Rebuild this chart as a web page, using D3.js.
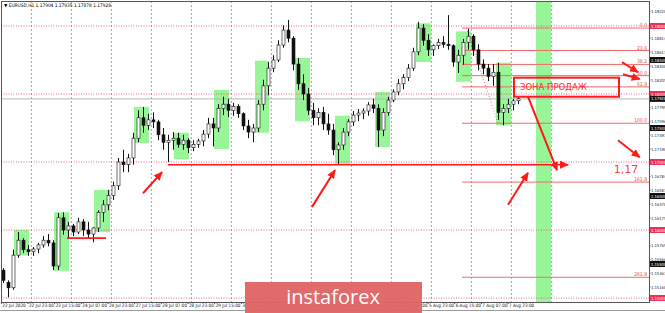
<!DOCTYPE html>
<html>
<head>
<meta charset="utf-8">
<script src="https://cdn.jsdelivr.net/npm/d3@7/dist/d3.min.js"></script>
<style>
  body { margin: 0; background: #fff; }
  svg { display: block; font-family: "DejaVu Sans", sans-serif; }
  .small { font-family: "Liberation Sans Narrow", "DejaVu Sans Condensed", sans-serif; }
</style>
</head>
<body>
<div id="chart"></div>
<script>
// EURUSD H1, each candle below = 3 hourly bars
const candles = [
  [1.1541,1.1544,1.1522,1.1526],[1.1523,1.1526,1.1501,1.1515],[1.1515,1.1571,1.1512,1.1563],[1.1563,1.1597,1.1559,1.1585],
  [1.1585,1.1588,1.1566,1.1571],[1.1571,1.1578,1.1562,1.1568],[1.1568,1.1575,1.1562,1.1572],[1.1572,1.1581,1.1566,1.1578],
  [1.1578,1.1591,1.1574,1.1585],[1.1585,1.1594,1.1576,1.1581],[1.1581,1.1585,1.1541,1.1547],[1.1547,1.1625,1.1541,1.1618],
  [1.1618,1.1626,1.1593,1.1600],[1.1600,1.1612,1.1588,1.1606],[1.1606,1.1609,1.1591,1.1597],[1.1597,1.1618,1.1594,1.1612],
  [1.1612,1.1616,1.1591,1.1600],[1.1600,1.1612,1.1588,1.1594],[1.1594,1.1604,1.1582,1.1603],[1.1603,1.1629,1.1597,1.1626],
  [1.1626,1.1644,1.1612,1.1637],[1.1637,1.1659,1.1629,1.1651],[1.1651,1.1671,1.1644,1.1665],[1.1665,1.1706,1.1659,1.1700],
  [1.1700,1.1718,1.1685,1.1696],[1.1696,1.1712,1.1685,1.1706],[1.1706,1.1743,1.1696,1.1735],[1.1735,1.1776,1.1729,1.1765],
  [1.1765,1.1781,1.1743,1.1754],[1.1754,1.1771,1.1747,1.1762],[1.1762,1.1773,1.1750,1.1759],[1.1759,1.1762,1.1732,1.1740],
  [1.1740,1.1750,1.1718,1.1729],[1.1729,1.1740,1.1700,1.1732],[1.1732,1.1744,1.1718,1.1735],[1.1735,1.1743,1.1721,1.1726],
  [1.1726,1.1740,1.1718,1.1732],[1.1732,1.1735,1.1713,1.1721],[1.1721,1.1732,1.1716,1.1726],[1.1726,1.1734,1.1721,1.1731],
  [1.1731,1.1747,1.1723,1.1741],[1.1741,1.1765,1.1735,1.1756],[1.1756,1.1765,1.1723,1.1750],[1.1750,1.1785,1.1744,1.1779],
  [1.1779,1.1796,1.1769,1.1785],[1.1785,1.1793,1.1766,1.1776],[1.1776,1.1787,1.1768,1.1782],[1.1782,1.1785,1.1765,1.1771],
  [1.1771,1.1773,1.1747,1.1753],[1.1753,1.1762,1.1735,1.1744],[1.1744,1.1756,1.1729,1.1750],[1.1750,1.1791,1.1744,1.1785],
  [1.1785,1.1821,1.1776,1.1812],[1.1812,1.1847,1.1798,1.1838],[1.1838,1.1857,1.1832,1.1850],[1.1850,1.1879,1.1847,1.1872],
  [1.1872,1.1901,1.1868,1.1894],[1.1894,1.1909,1.1876,1.1882],[1.1882,1.1885,1.1835,1.1844],[1.1844,1.1853,1.1806,1.1815],
  [1.1815,1.1829,1.1791,1.1800],[1.1800,1.1809,1.1769,1.1776],[1.1776,1.1787,1.1754,1.1765],[1.1765,1.1779,1.1754,1.1773],
  [1.1773,1.1781,1.1747,1.1756],[1.1756,1.1771,1.1740,1.1747],[1.1747,1.1756,1.1710,1.1718],[1.1718,1.1729,1.1697,1.1725],
  [1.1725,1.1750,1.1718,1.1744],[1.1744,1.1763,1.1738,1.1759],[1.1759,1.1775,1.1753,1.1769],[1.1769,1.1778,1.1760,1.1772],
  [1.1772,1.1779,1.1763,1.1775],[1.1775,1.1788,1.1768,1.1784],[1.1784,1.1793,1.1772,1.1779],[1.1779,1.1785,1.1722,1.1747],
  [1.1747,1.1779,1.1738,1.1773],[1.1773,1.1796,1.1768,1.1791],[1.1791,1.1807,1.1788,1.1803],[1.1803,1.1822,1.1798,1.1815],
  [1.1815,1.1829,1.1807,1.1824],[1.1824,1.1844,1.1819,1.1838],[1.1838,1.1868,1.1834,1.1862],[1.1862,1.1906,1.1857,1.1897],
  [1.1897,1.1903,1.1871,1.1879],[1.1879,1.1888,1.1856,1.1865],[1.1865,1.1873,1.1856,1.1871],[1.1871,1.1881,1.1866,1.1876],
  [1.1876,1.1885,1.1868,1.1873],[1.1873,1.1916,1.1865,1.1871],[1.1871,1.1873,1.1840,1.1847],[1.1847,1.1865,1.1831,1.1857],
  [1.1857,1.1881,1.1843,1.1876],[1.1876,1.1896,1.1865,1.1885],[1.1885,1.1888,1.1856,1.1865],[1.1865,1.1873,1.1835,1.1844],
  [1.1844,1.1851,1.1829,1.1838],[1.1838,1.1844,1.1819,1.1826],[1.1826,1.1844,1.1812,1.1832],[1.1832,1.1846,1.1762,1.1773],
  [1.1773,1.1785,1.1754,1.1779],[1.1779,1.1793,1.1772,1.1785],[1.1785,1.1793,1.1776,1.1790],[1.1790,1.1797,1.1785,1.1793]
];
const hoursPerCandle = 3;
const bidPrice = 1.17928;

// time labels, one every 16 hourly bars
const timeLabels = ["22 Jul 2020","22 Jul 23:00","23 Jul 15:00","24 Jul 07:00","24 Jul 23:00","27 Jul 15:00",
  "28 Jul 07:00","28 Jul 23:00","29 Jul 15:00","30 Jul 07:00","30 Jul 23:00","31 Jul 15:00","3 Aug 07:00",
  "3 Aug 23:00","4 Aug 15:00","5 Aug 07:00","5 Aug 23:00","6 Aug 15:00","7 Aug 07:00","7 Aug 23:00"];

// right price scale
const priceTicks = [1.19220,1.18814,1.18611,1.18408,1.18205,1.17799,1.17596,1.17393,1.17190,
  1.16784,1.16581,1.16378,1.16175,1.15769,1.15566,1.15363,1.15160];
const roundLevels = [1.19, 1.18, 1.17, 1.16, 1.15];
const halfLevels = [1.185, 1.175, 1.165, 1.155];

// green zones: [startBar, endBar, top, bottom]
const zones = [
  [7.6,16.6,1.1600,1.1563],[31.6,40.6,1.1626,1.1540],[55.6,65.2,1.1659,1.1597],[79.6,88.6,1.1781,1.1728],
  [103.6,112.6,1.1743,1.1704],[127.6,136.6,1.1806,1.1719],[152.2,160.6,1.1849,1.1743],[176.2,185.2,1.1853,1.1760],
  [200.2,209.2,1.1768,1.1696],[224.2,233.2,1.1803,1.1722],[248.8,257.8,1.1904,1.1847],[272.8,281.8,1.1892,1.1818],
  [296.8,305.8,1.1846,1.1754]
];
const futureZone = [320.8, 329.8];

// fibonacci grid
const fibHigh = 1.1897, fibLow = 1.1757, fibStart = 276.4;
const fibLevels = [0, 23.6, 38.2, 50, 61.8, 100, 161.8, 261.8];
const fibTrend = [[279, 1.1897], [298, 1.1757]];

// red levels and arrows: [bar, price]
const supportLines = [
  {from: 100, to: 340, price: 1.1696, arrow: true},
  {from: 39.4, to: 62.8, price: 1.1588, arrow: false}
];
const arrows = [
  [[85, 1.1654], [96.4, 1.1685]],
  [[186.4, 1.1634], [200.2, 1.1688]],
  [[304, 1.1637], [316, 1.1684]],
  [[316, 1.1796], [333.4, 1.1688]],
  [[372.4, 1.1847], [382, 1.1832]],
  [[373, 1.1829], [383, 1.1822]],
  [[370, 1.1732], [383, 1.1707]]
];
const sellZone = {from: 307.6, to: 370.6, top: 1.1824, bottom: 1.1796, label: "ЗОНА ПРОДАЖ"};
const target = {bar: 374.8, price: 1.1684, label: "1,17"};

const width = 665, height = 313;
const plot = {left: 1, right: 649, top: 1, bottom: 302};

const svg = d3.select("#chart").append("svg")
  .attr("width", width).attr("height", height);

const x = d3.scaleLinear().domain([0, 388]).range([1.33, 648]);
const y = d3.scaleLinear().domain([1.15, 1.19]).range([298, 26]);

svg.append("defs").append("clipPath").attr("id", "clip")
  .append("rect").attr("x", plot.left).attr("y", plot.top)
  .attr("width", plot.right - plot.left).attr("height", plot.bottom - plot.top);

const marker = svg.select("defs").append("marker")
  .attr("id", "head").attr("markerUnits", "userSpaceOnUse")
  .attr("markerWidth", 10).attr("markerHeight", 8)
  .attr("refX", 8).attr("refY", 4).attr("orient", "auto");
marker.append("path").attr("d", "M0,0 L9,4 L0,8 Z").attr("fill", "#ff1a1a");

const g = svg.append("g").attr("clip-path", "url(#clip)");

// vertical grid, one per day
g.selectAll(".vgrid").data(d3.range(18, 331, 24)).enter().append("line")
  .attr("x1", d => x(d)).attr("x2", d => x(d))
  .attr("y1", plot.top).attr("y2", plot.bottom)
  .attr("stroke", "#8a8a8a").attr("stroke-dasharray", "2,2").attr("stroke-width", 0.8);

// future highlight column
g.append("rect")
  .attr("x", x(futureZone[0])).attr("width", x(futureZone[1]) - x(futureZone[0]))
  .attr("y", plot.top).attr("height", plot.bottom - plot.top)
  .attr("fill", "#98f598");

// green zones
g.selectAll(".zone").data(zones).enter().append("rect")
  .attr("x", d => x(d[0])).attr("width", d => x(d[1]) - x(d[0]))
  .attr("y", d => y(d[2])).attr("height", d => y(d[3]) - y(d[2]))
  .attr("fill", "#98f598");

// round levels, dotted
g.selectAll(".round").data(roundLevels).enter().append("line")
  .attr("x1", plot.left).attr("x2", plot.right)
  .attr("y1", d => y(d)).attr("y2", d => y(d))
  .attr("stroke", "#f0507a").attr("stroke-dasharray", "1,1.5").attr("stroke-width", 0.9);

// bid line
g.append("line")
  .attr("x1", plot.left).attr("x2", plot.right)
  .attr("y1", y(bidPrice)).attr("y2", y(bidPrice))
  .attr("stroke", "#b5b5b5");

// fibonacci
const fibPrice = lvl => fibHigh - (fibHigh - fibLow) * lvl / 100;
g.selectAll(".fib").data(fibLevels).enter().append("line")
  .attr("x1", x(fibStart)).attr("x2", plot.right)
  .attr("y1", d => y(fibPrice(d))).attr("y2", d => y(fibPrice(d)))
  .attr("stroke", "#f26b6b").attr("stroke-width", 1);
g.selectAll(".fibtxt").data(fibLevels).enter().append("text")
  .attr("class", "small")
  .attr("x", plot.right - 2).attr("y", d => y(fibPrice(d)) - 1)
  .attr("text-anchor", "end").attr("font-size", 5).attr("fill", "#e84a4a")
  .text(d => d.toFixed(1));
g.append("line")
  .attr("x1", x(fibTrend[0][0])).attr("y1", y(fibTrend[0][1]))
  .attr("x2", x(fibTrend[1][0])).attr("y2", y(fibTrend[1][1]))
  .attr("stroke", "#f26b6b").attr("stroke-dasharray", "1,2");

// candles
const bw = 3;
const cg = g.append("g");
cg.selectAll(".wick").data(candles).enter().append("line")
  .attr("x1", (d, i) => Math.round(x(i * hoursPerCandle + 1)) + 0.5)
  .attr("x2", (d, i) => Math.round(x(i * hoursPerCandle + 1)) + 0.5)
  .attr("y1", d => y(d[1])).attr("y2", d => y(d[2]))
  .attr("stroke", "#111");
cg.selectAll(".body").data(candles).enter().append("rect")
  .attr("x", (d, i) => Math.round(x(i * hoursPerCandle + 1)) - 1)
  .attr("width", bw)
  .attr("y", d => y(Math.max(d[0], d[3])))
  .attr("height", d => Math.max(1, Math.abs(y(d[0]) - y(d[3]))))
  .attr("fill", d => d[3] >= d[0] ? "#fff" : "#111")
  .attr("stroke", "#111").attr("stroke-width", 0.6);

// red support lines
g.selectAll(".support").data(supportLines).enter().append("line")
  .attr("x1", d => x(d.from)).attr("x2", d => x(d.to))
  .attr("y1", d => y(d.price)).attr("y2", d => y(d.price))
  .attr("stroke", "#ff1a1a").attr("stroke-width", 1.6)
  .attr("marker-end", d => d.arrow ? "url(#head)" : null);

// sell zone box
g.append("rect")
  .attr("x", x(sellZone.from)).attr("width", x(sellZone.to) - x(sellZone.from))
  .attr("y", y(sellZone.top)).attr("height", y(sellZone.bottom) - y(sellZone.top))
  .attr("fill", "none").attr("stroke", "#ff1a1a").attr("stroke-width", 2);
g.append("text")
  .attr("x", x(sellZone.from) + 6).attr("y", (y(sellZone.top) + y(sellZone.bottom)) / 2 + 3)
  .attr("font-size", 8.5).attr("fill", "#ff2a2a").text(sellZone.label);

// arrows
g.selectAll(".arrow").data(arrows).enter().append("line")
  .attr("x1", d => x(d[0][0])).attr("y1", d => y(d[0][1]))
  .attr("x2", d => x(d[1][0])).attr("y2", d => y(d[1][1]))
  .attr("stroke", "#ff1a1a").attr("stroke-width", 2)
  .attr("marker-end", "url(#head)");

g.append("text")
  .attr("x", x(target.bar)).attr("y", y(target.price))
  .attr("text-anchor", "middle").attr("font-size", 11).attr("fill", "#ff4040")
  .text(target.label);

// frame
svg.append("rect")
  .attr("x", plot.left + 0.5).attr("y", plot.top + 0.5)
  .attr("width", plot.right - plot.left).attr("height", plot.bottom - plot.top)
  .attr("fill", "none").attr("stroke", "#555");

// title
svg.append("text").attr("class", "small").attr("x", 4).attr("y", 6.5).attr("font-size", 4.8).attr("fill", "#000")
  .text("▼ EURUSD,H1  1.17904 1.17935 1.17878 1.17928");

// right axis
const ra = svg.append("g").attr("class", "small");
ra.selectAll(".tk").data(priceTicks).enter().append("text")
  .attr("x", plot.right + 2).attr("y", d => y(d) + 1.5)
  .attr("font-size", 4.1).attr("fill", "#222")
  .text(d => d.toFixed(5));
ra.selectAll(".tkl").data(priceTicks).enter().append("line")
  .attr("x1", plot.right).attr("x2", plot.right + 1.5)
  .attr("y1", d => y(d)).attr("y2", d => y(d)).attr("stroke", "#555");

function priceTag(list, fill) {
  const t = ra.selectAll(null).data(list).enter().append("g")
    .attr("transform", d => `translate(${plot.right + 1},${y(d)})`);
  t.append("rect").attr("x", 0).attr("y", -3).attr("width", 15).attr("height", 6).attr("fill", fill);
  t.append("text").attr("x", 1).attr("y", 1.5).attr("font-size", 4.1).attr("fill", "#fff")
    .text(d => d.toFixed(5));
}
priceTag(roundLevels, "#e8325a");
priceTag(halfLevels, "#111");
priceTag([bidPrice], "#111");

// bottom axis
const ba = svg.append("g").attr("class", "small");
ba.selectAll(".bt").data(timeLabels).enter().append("text")
  .attr("x", (d, i) => x(i * 16) + 1).attr("y", 307)
  .attr("font-size", 4.6).attr("fill", "#222").text(d => d);
ba.selectAll(".btl").data(timeLabels).enter().append("line")
  .attr("x1", (d, i) => x(i * 16)).attr("x2", (d, i) => x(i * 16))
  .attr("y1", plot.bottom).attr("y2", plot.bottom + 2).attr("stroke", "#555");
svg.append("line").attr("x1", 0).attr("x2", width).attr("y1", 310.5).attr("y2", 310.5)
  .attr("stroke", "#9a9a9a");

// watermark
const wm = svg.append("g");
wm.append("rect").attr("x", 245).attr("y", 282).attr("width", 177).attr("height", 31)
  .attr("fill", "#e06565").attr("opacity", 0.96);
wm.append("text").attr("x", 333).attr("y", 304).attr("text-anchor", "middle")
  .attr("font-family", "'Open Sans', sans-serif").attr("font-size", 20).attr("fill", "#fff")
  .text("instaforex");
</script>
</body>
</html>
